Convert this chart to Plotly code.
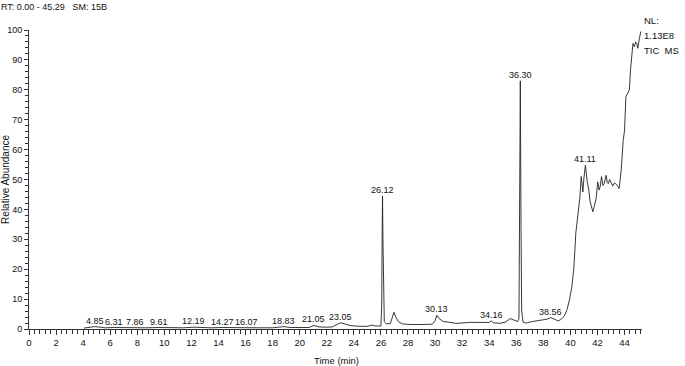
import numpy as np
import plotly.graph_objects as go

# Chromatogram trace (retention time, relative abundance)
time_min = [4.05, 4.3, 4.85, 5.3, 5.6, 6.31, 7.0, 7.86, 8.6, 9.61, 10.5, 11.4, 12.19, 12.8,
            13.5, 14.27, 15.2, 16.07, 17.0, 18.0, 18.83, 19.3, 20.0, 20.7, 21.05, 21.4,
            22.0, 22.4, 22.8, 23.05, 23.4, 23.8, 24.4, 25.0, 25.36, 25.6, 26.0, 26.06,
            26.09, 26.12, 26.15, 26.19, 26.25, 26.4, 26.7, 26.85, 26.96, 27.1, 27.3, 27.6,
            28.2, 29.0, 29.8, 30.0, 30.13, 30.3, 30.6, 31.0, 31.5, 32.0, 32.5, 33.3, 34.0,
            34.16, 34.3, 34.8, 35.2, 35.55, 35.8, 36.1, 36.2, 36.25, 36.30, 36.35, 36.4,
            36.5, 36.7, 37.2, 37.8, 38.3, 38.56, 38.8, 39.1, 39.3, 39.55, 39.75, 39.93,
            40.1, 40.25, 40.4, 40.55, 40.7, 40.8, 40.92, 41.0, 41.11, 41.25, 41.36, 41.46,
            41.66, 41.9, 42.02, 42.12, 42.2, 42.3, 42.4, 42.5, 42.64, 42.72, 42.8, 42.9,
            43.0, 43.13, 43.25, 43.4, 43.6, 43.75, 43.9, 44.0, 44.1, 44.25, 44.36, 44.44,
            44.56, 44.62, 44.73, 44.82, 44.9, 44.98, 45.1, 45.2]
abundance = [0.3, 0.5, 0.8, 0.6, 0.4, 0.5, 0.4, 0.5, 0.4, 0.5, 0.4, 0.4, 0.6, 0.4,
             0.4, 0.5, 0.4, 0.5, 0.4, 0.4, 0.8, 0.5, 0.4, 0.5, 1.2, 0.7,
             0.6, 0.7, 1.6, 2.1, 1.6, 1.1, 0.9, 0.9, 1.3, 1.0, 1.0, 8.0,
             30.0, 44.5, 30.0, 8.0, 2.5, 1.7, 1.8, 4.0, 5.6, 4.0, 2.4, 1.7,
             1.5, 1.5, 1.6, 2.8, 4.6, 3.5, 2.5, 2.3, 1.9, 2.0, 2.2, 2.2, 2.2,
             2.7, 2.1, 1.9, 2.3, 3.5, 3.1, 2.5, 3.5, 30.0, 83.0, 35.0, 6.0,
             2.3, 2.0, 2.5, 2.9, 3.3, 3.8, 3.3, 2.7, 3.2, 4.3, 6.5, 9.7,
             14.0, 20.0, 32.0, 37.5, 44.0, 51.0, 45.8, 50.5, 54.8, 49.0, 46.4, 42.5,
             39.2, 43.6, 49.2, 46.5, 47.6, 51.0, 48.0, 48.6, 51.4, 49.0, 48.6, 50.0,
             49.2, 47.8, 48.8, 48.4, 47.0, 53.0, 63.0, 66.5, 77.7, 79.0, 80.0, 86.6,
             94.4, 95.5, 94.4, 96.0, 95.5, 93.9, 97.2, 99.5]

# Peak labels
peak_labels = ["4.85", "6.31", "7.86", "9.61", "12.19", "14.27", "16.07", "18.83",
               "21.05", "23.05", "26.12", "30.13", "34.16", "36.30", "38.56", "41.11"]
peak_times = [4.85, 6.31, 7.86, 9.61, 12.19, 14.27, 16.07, 18.83,
              21.05, 23.05, 26.12, 30.13, 34.16, 36.30, 38.56, 41.11]

x_ticks = list(range(0, 46, 2))
y_ticks = list(range(0, 101, 10))

header_text = "RT: 0.00 - 45.29   SM: 15B"
info_lines = ["NL:", "1.13E8", "TIC  MS"]

FONT = "Liberation Sans, Arial, sans-serif"
TXT = "#111111"

fig = go.Figure()
fig.add_trace(go.Scatter(x=time_min, y=abundance, mode="lines",
                         line=dict(color="#222222", width=0.9), hoverinfo="skip",
                         showlegend=False))

peak_heights = np.interp(peak_times, time_min, abundance)
for lab, t, h in zip(peak_labels, peak_times, peak_heights):
    fig.add_annotation(x=t, y=h, text=lab, showarrow=False, xanchor="center",
                       yanchor="bottom", yshift=0, borderpad=0,
                       font=dict(family=FONT, size=9, color=TXT))

fig.add_annotation(xref="paper", yref="paper", x=-0.047, y=1.077, xanchor="left", yanchor="middle",
                   text=header_text, showarrow=False, borderpad=0,
                   font=dict(family=FONT, size=9, color=TXT))
for i, line in enumerate(info_lines):
    fig.add_annotation(xref="paper", yref="paper", x=1.002, y=1.033 - i * 0.05,
                       xanchor="left", yanchor="middle", text=line, showarrow=False,
                       borderpad=0, font=dict(family=FONT, size=9.5, color=TXT))
fig.add_annotation(xref="paper", yref="paper", x=0.502, y=-0.083, xanchor="center", yanchor="top",
                   text="Time (min)", showarrow=False, borderpad=0,
                   font=dict(family=FONT, size=9.5, color=TXT))
fig.add_annotation(xref="paper", yref="paper", x=-0.0385, y=0.5, xanchor="center", yanchor="middle",
                   text="Relative Abundance", textangle=-90, showarrow=False, borderpad=0,
                   font=dict(family=FONT, size=10, color=TXT))

fig.update_layout(
    width=685, height=366,
    margin=dict(l=29, r=43, t=30, b=37),
    paper_bgcolor="white", plot_bgcolor="white",
    font=dict(family=FONT, size=9.5, color=TXT),
)
fig.update_xaxes(range=[0, 45.29], tickvals=x_ticks, ticks="outside", ticklen=5,
                 tickcolor="#333", showline=True, linecolor="#333", linewidth=1,
                 showgrid=False, zeroline=False, automargin=False,
                 minor=dict(dtick=0.4, tick0=0, ticks="outside", ticklen=4, tickcolor="#333"),
                 tickfont=dict(family=FONT, size=9.5))
fig.update_yaxes(range=[0, 100], tickvals=y_ticks, ticks="outside", ticklen=4,
                 tickcolor="#333", showline=True, linecolor="#333", linewidth=1,
                 showgrid=False, zeroline=False, automargin=False,
                 minor=dict(dtick=2, tick0=0, ticks="outside", ticklen=3, tickcolor="#333"),
                 tickfont=dict(family=FONT, size=9))

fig.write_html("out.html", config={"displayModeBar": False},
               post_script="document.body.style.margin='0px';document.body.style.overflow='hidden';")
